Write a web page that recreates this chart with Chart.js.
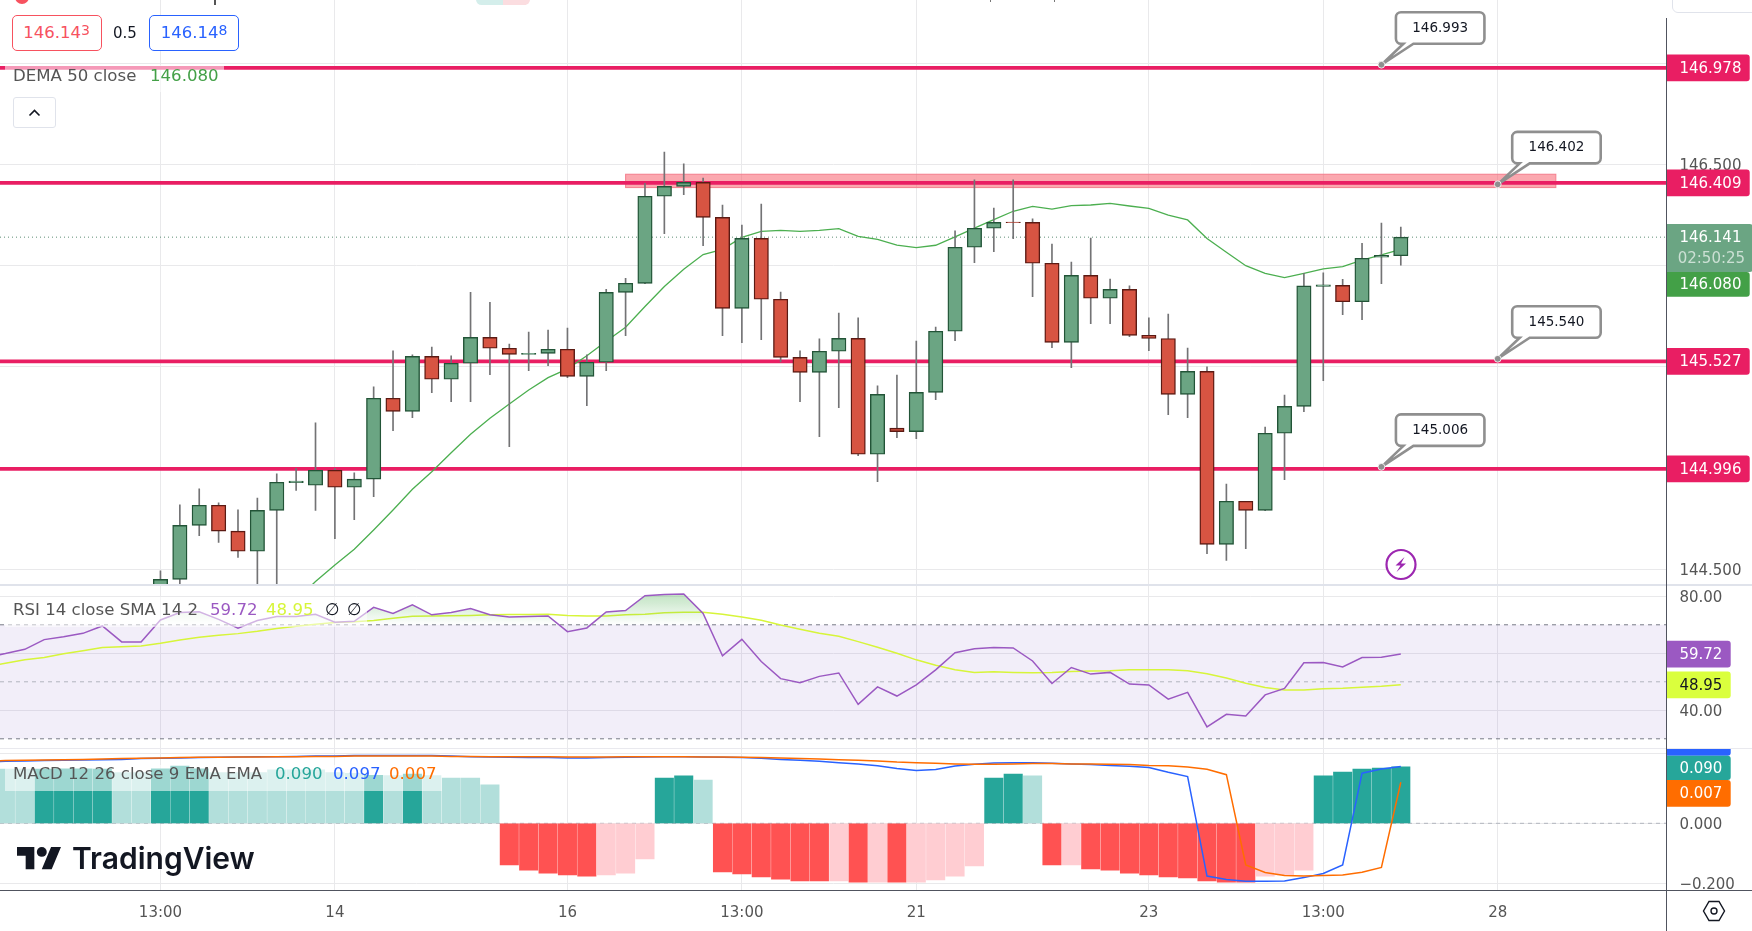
<!DOCTYPE html>
<html>
<head>
<meta charset="utf-8">
<title>USD/JPY chart</title>
<script src="https://cdn.jsdelivr.net/npm/chart.js@4"></script>
<style>
html, body { margin: 0; padding: 0; background: #fff; }
body { width: 1752px; height: 931px; position: relative; overflow: hidden; font-family: "DejaVu Sans", sans-serif; color: #555; }
canvas { position: absolute; left: 0; display: block; }
.abs { position: absolute; white-space: nowrap; }
.legend-bg { position: absolute; background: rgba(255,255,255,0.55); }
.txt { position: absolute; white-space: nowrap; font-size: 16.6px; line-height: 20px; }
.quote { position: absolute; top: 15.3px; width: 88.3px; height: 33.4px; border: 1px solid; border-radius: 5px; font-size: 16.5px; line-height: 33px; text-align: center; background: #fff; }
.quote span { font-size: 14px; position: relative; top: -3px; }
</style>
</head>
<body>
<canvas id="mainChart" style="top:0"></canvas>
<canvas id="rsiChart" style="top:586px"></canvas>
<canvas id="macdChart" style="top:749px"></canvas>

<div class="abs" style="left:0;top:584px;width:1752px;height:2px;background:#E0E3EB"></div>
<div class="abs" style="left:0;top:748px;width:1752px;height:1px;background:#E9E9EE"></div>
<div class="abs" style="left:0;top:890px;width:1752px;height:1px;background:#50535E"></div>
<div class="abs" style="left:1666px;top:18px;width:1px;height:913px;background:#50535E"></div>

<div class="abs" style="left:15px;top:-10px;width:14px;height:14px;border-radius:50%;background:#F7525F"></div>
<div class="abs" style="left:214px;top:0;width:2px;height:5px;background:#555"></div>
<div class="abs" style="left:476px;top:-6px;width:27px;height:11px;border-radius:6px 0 0 6px;background:#D4EEEB"></div>
<div class="abs" style="left:503px;top:-6px;width:27px;height:11px;border-radius:0 6px 6px 0;background:#FBDDE0"></div>
<div class="abs" style="left:990px;top:0;width:1px;height:2px;background:#777"></div>
<div class="abs" style="left:1054px;top:0;width:1px;height:2px;background:#777"></div>
<div class="abs" style="left:1672px;top:-6px;width:90px;height:17px;border:1px solid #E0E3EB;border-radius:6px"></div>

<div class="quote" style="left:11.5px;border-color:#F7525F;color:#F7525F">146.14<span>3</span></div>
<div class="txt" style="left:113px;top:23px;color:#131722;font-size:15px">0.5</div>
<div class="quote" style="left:149px;border-color:#2962FF;color:#2962FF">146.14<span>8</span></div>

<div class="legend-bg" style="left:5px;top:64.5px;width:219px;height:27px"></div>
<div class="txt" style="left:13px;top:66px">DEMA 50 close</div>
<div class="txt" style="left:150px;top:66px;color:#43A047">146.080</div>

<div class="abs" style="left:13.4px;top:96.7px;width:41px;height:29.6px;border:1px solid #E0E3EB;border-radius:3px;background:#fff">
  <svg width="41" height="30"><path d="M15.5 17.5L20.5 12.5L25.5 17.5" fill="none" stroke="#131722" stroke-width="1.6"/></svg>
</div>

<div class="legend-bg" style="left:5px;top:596.7px;width:361.6px;height:30.3px"></div>
<div class="txt" style="left:13px;top:600px">RSI 14 close SMA 14 2</div>
<div class="txt" style="left:210px;top:600px;color:#9B59C2">59.72</div>
<div class="txt" style="left:266px;top:600px;color:#D7F53A">48.95</div>
<div class="txt" style="left:325px;top:600px;color:#131722">∅</div>
<div class="txt" style="left:347px;top:600px;color:#131722">∅</div>

<div class="legend-bg" style="left:5px;top:765px;width:437px;height:25.7px"></div>
<div class="txt" style="left:13px;top:764px">MACD 12 26 close 9 EMA EMA</div>
<div class="txt" style="left:275px;top:764px;color:#26A69A">0.090</div>
<div class="txt" style="left:333px;top:764px;color:#2962FF">0.097</div>
<div class="txt" style="left:389px;top:764px;color:#FF6D00">0.007</div>

<svg class="abs" style="left:17px;top:841.7px" width="44.6" height="34.7" viewBox="0 0 36 28">
  <path d="M14 22H7V11H0V4h14v18zM28 22h-8l7.5-18h8L28 22z" fill="#131722"/><circle cx="20" cy="8" r="4" fill="#131722"/>
</svg>
<div class="abs" style="left:72px;top:840px;font:600 30px/36px Inter, sans-serif;color:#131722">TradingView</div>

<svg class="abs" style="left:1384px;top:548px" width="34" height="34">
  <circle cx="17" cy="16.5" r="14.5" fill="#fff" stroke="#9C27B0" stroke-width="2.2"/>
  <path d="M20.5 9L11.5 17.5H16.5L12.5 24L22 15.5H17z" fill="#9C27B0"/>
</svg>
<svg class="abs" style="left:1702px;top:900px" width="24" height="22">
  <path d="M7 1.5H17L22.5 11L17 20.5H7L1.5 11z" fill="none" stroke="#131722" stroke-width="1.4"/>
  <circle cx="12" cy="11" r="3" fill="none" stroke="#131722" stroke-width="1.4"/>
</svg>

<script>
// bar numbers on the time axis, 0 is the first 13:00
var xMin = -8.28;
var xMax = 77.72;
var timeTickBars = [0, 9, 21, 30, 39, 51, 60, 69];
var timeTickLabels = ['13:00', '14', '16', '13:00', '21', '23', '13:00', '28'];

// candles start at bar 0
var openPrices = [144.300,144.450,144.717,144.816,144.688,144.589,144.791,144.928,144.915,144.989,144.905,144.945,145.345,145.280,145.552,145.439,145.518,145.646,145.592,145.562,145.567,145.587,145.453,145.523,145.868,145.913,146.343,146.392,146.412,146.239,145.789,146.135,145.834,145.547,145.473,145.577,145.641,145.068,145.197,145.180,145.374,145.676,146.091,146.185,146.216,146.214,146.012,145.621,145.952,145.839,145.883,145.656,145.640,145.364,145.478,144.623,144.836,144.791,145.172,145.305,145.898,145.903,145.822,146.042,146.049];
var highPrices = [144.492,144.818,144.897,144.828,144.793,144.852,144.971,144.999,145.223,144.999,144.976,145.401,145.579,145.559,145.598,145.554,145.868,145.819,145.613,145.672,145.682,145.692,145.559,145.883,145.938,146.407,146.562,146.503,146.433,146.300,146.201,146.305,145.870,145.579,145.638,145.766,145.742,145.406,145.460,145.628,145.697,146.172,146.424,146.285,146.424,146.231,146.107,146.018,146.137,145.934,145.900,145.742,145.761,145.593,145.500,144.921,144.836,145.203,145.361,145.962,145.965,145.933,146.111,146.210,146.191];
var lowPrices = [144.260,144.400,144.666,144.632,144.558,144.380,144.400,144.889,144.790,144.651,144.745,144.859,145.185,145.249,145.373,145.328,145.328,145.462,145.106,145.481,145.506,145.447,145.308,145.481,145.654,145.911,146.158,146.351,146.099,145.654,145.620,145.635,145.524,145.328,145.155,145.299,145.061,144.933,145.150,145.145,145.338,145.630,146.015,146.069,146.134,145.847,145.595,145.496,145.714,145.714,145.649,145.580,145.264,145.249,144.577,144.543,144.602,144.789,144.943,145.279,145.432,145.758,145.733,145.911,146.003];
var closePrices = [144.450,144.717,144.816,144.688,144.589,144.791,144.930,144.935,144.989,144.905,144.945,145.345,145.280,145.552,145.439,145.518,145.646,145.592,145.562,145.567,145.587,145.453,145.523,145.868,145.913,146.343,146.392,146.412,146.239,145.789,146.135,145.834,145.547,145.473,145.577,145.641,145.068,145.364,145.180,145.374,145.676,146.091,146.185,146.214,146.213,146.012,145.621,145.952,145.839,145.883,145.656,145.640,145.364,145.478,144.623,144.836,144.791,145.172,145.305,145.900,145.905,145.822,146.037,146.051,146.141];

// DEMA starts at bar 7, below that it is under the pane
var demaStart = 7;
var demaValues = [144.348,144.439,144.521,144.599,144.694,144.793,144.895,144.982,145.076,145.167,145.246,145.317,145.386,145.447,145.490,145.555,145.627,145.696,145.798,145.897,145.982,146.055,146.081,146.140,146.170,146.175,146.170,146.175,146.183,146.145,146.130,146.102,146.089,146.101,146.142,146.186,146.228,146.269,146.293,146.280,146.297,146.300,146.308,146.295,146.283,146.250,146.226,146.134,146.066,146.000,145.962,145.941,145.962,145.984,145.995,146.028,146.053,146.081];

var lineLevels = [146.978, 146.409, 145.527, 144.996];
var lastPrice = 146.141;
var demaLast = 146.080;
var zoneLow = 146.386;
var zoneHigh = 146.452;
var zoneStartBar = 24;
var zoneEndBar = 72;
var calloutBars = [63, 69, 69, 63];
var calloutPrices = [146.993, 146.402, 145.540, 145.006];
var priceTicks = [147, 146.5, 146, 145.5, 145, 144.5];

// oscillators start at bar -9
var oscStart = -9;
var rsiValues = [58.6,59.9,61.4,64.8,65.8,67.0,69.6,64.0,64.0,71.7,74.3,74.6,71.9,68.8,71.5,72.9,72.9,73.7,70.9,71.2,76.1,74.0,77.0,73.5,74.3,75.7,73.5,72.7,72.9,73.1,67.6,68.9,74.5,75.0,80.2,80.6,80.8,74.0,59.1,64.9,57.1,51.1,49.7,51.9,53.1,42.1,48.2,45.0,48.9,54.2,60.2,61.6,62.0,61.9,57.3,49.4,55.0,52.7,53.3,49.2,48.9,43.9,46.3,34.2,38.6,38.0,45.4,47.7,56.7,56.8,55.2,58.5,58.6,59.72];
var rsiSma = [55.3,56.5,57.7,58.5,59.8,60.9,62.0,62.3,62.6,63.5,64.7,65.6,66.3,66.9,67.7,68.7,69.5,70.2,70.8,71.1,71.5,72.3,73.0,73.1,73.2,73.3,73.5,73.6,73.6,73.7,73.3,73.1,73.1,73.5,73.7,74.2,74.4,74.4,73.7,72.7,71.6,69.9,68.4,67.0,66.0,64.1,62.1,60.0,57.7,55.8,54.2,53.3,53.5,53.3,53.2,53.3,53.6,53.8,53.9,54.2,54.2,54.2,53.9,52.8,51.3,49.5,48.0,47.1,47.1,47.6,47.7,48.1,48.4,48.95];
var rsiLevels = [70, 50, 30];
var rsiTicks = [80, 60, 40];

var histValues = [0.181,0.181,0.181,0.181,0.182,0.182,0.181,0.169,0.169,0.182,0.191,0.182,0.169,0.169,0.169,0.178,0.178,0.178,0.169,0.167,0.160,0.159,0.164,0.159,0.151,0.151,0.128,-0.139,-0.156,-0.166,-0.172,-0.176,-0.172,-0.166,-0.119,0.151,0.158,0.144,-0.162,-0.169,-0.179,-0.186,-0.192,-0.192,-0.192,-0.196,-0.196,-0.196,-0.196,-0.189,-0.176,-0.142,0.151,0.164,0.158,-0.139,-0.139,-0.152,-0.156,-0.166,-0.172,-0.179,-0.182,-0.192,-0.196,-0.196,-0.176,-0.172,-0.156,0.158,0.171,0.181,0.184,0.188];
// bars where the histogram is drawn in the pale shade
var histPaleBars = [-9,-8,-7,-2,-1,3,4,5,6,7,8,9,10,12,14,15,16,17,23,24,25,28,35,37,39,40,41,42,45,47,57,58,59];
var macdValues = [0.204,0.207,0.208,0.209,0.210,0.211,0.212,0.213,0.216,0.217,0.218,0.219,0.220,0.221,0.222,0.222,0.223,0.224,0.224,0.226,0.226,0.226,0.226,0.226,0.224,0.222,0.221,0.220,0.219,0.219,0.218,0.218,0.219,0.220,0.221,0.222,0.222,0.221,0.220,0.219,0.217,0.213,0.210,0.207,0.202,0.198,0.192,0.183,0.176,0.179,0.191,0.197,0.201,0.202,0.202,0.200,0.198,0.196,0.193,0.190,0.186,0.170,0.156,-0.176,-0.187,-0.193,-0.193,-0.192,-0.181,-0.167,-0.139,0.167,0.181,0.189];
var signalValues = [0.206,0.209,0.210,0.211,0.212,0.213,0.214,0.216,0.217,0.218,0.219,0.220,0.220,0.221,0.221,0.222,0.222,0.223,0.223,0.224,0.224,0.224,0.224,0.224,0.223,0.223,0.222,0.222,0.222,0.222,0.221,0.221,0.221,0.222,0.222,0.222,0.222,0.221,0.221,0.220,0.219,0.218,0.216,0.214,0.212,0.210,0.208,0.204,0.202,0.200,0.198,0.197,0.197,0.198,0.199,0.199,0.198,0.198,0.197,0.196,0.193,0.192,0.188,0.180,0.162,-0.139,-0.164,-0.174,-0.176,-0.174,-0.172,-0.163,-0.147,0.137];
var macdTicks = [0.233, 0, -0.2];
var macdZero = 0;

var FONT = '"DejaVu Sans", sans-serif';
var GRID = '#E9E9EB';
var TICK_COLOR = '#555';
var PINK = '#E91E63';
var AXIS_WIDTH = 85.3;

Chart.defaults.animation = false;
Chart.defaults.font.family = FONT;
Chart.defaults.font.size = 15;
Chart.defaults.events = [];

var mainEl = document.getElementById('mainChart');
var rsiEl = document.getElementById('rsiChart');
var macdEl = document.getElementById('macdChart');
mainEl.width = 1752; mainEl.height = 584;
rsiEl.width = 1752; rsiEl.height = 162;
macdEl.width = 1752; macdEl.height = 182;

function toPoints(values, start) {
    return values.map(function (v, k) { return { x: start + k, y: v }; });
}

function levelLine(value, color, width, dash, order) {
    return {
        type: 'line',
        data: [{ x: xMin, y: value }, { x: xMax, y: value }],
        borderColor: color,
        borderWidth: width,
        borderDash: dash,
        pointRadius: 0,
        order: order
    };
}

function seriesLine(values, start, color, order, width) {
    return {
        type: 'line',
        data: toPoints(values, start),
        borderColor: color,
        borderWidth: width,
        pointRadius: 0,
        tension: 0,
        order: order
    };
}

// the plot must run to the very edge of each pane
function noScalePadding(scale) {
    scale.paddingTop = 0;
    scale.paddingBottom = 0;
    scale.paddingLeft = 0;
    scale.paddingRight = 0;
}

function paneOptions(yMin, yMax, yTicks, formatTick, showTime) {
    return {
        responsive: false,
        maintainAspectRatio: false,
        layout: { padding: 0, autoPadding: false },
        plugins: { legend: { display: false }, tooltip: { enabled: false } },
        scales: {
            x: {
                type: 'linear',
                offset: false,
                min: xMin,
                max: xMax,
                afterBuildTicks: function (scale) {
                    scale.ticks = timeTickBars.map(function (b) { return { value: b }; });
                },
                afterFit: function (scale) {
                    scale.height = showTime ? 41 : 0;
                    noScalePadding(scale);
                },
                grid: { color: GRID, offset: false, drawTicks: false },
                border: { display: false },
                ticks: {
                    display: showTime,
                    autoSkip: false,
                    maxRotation: 0,
                    padding: 14,
                    color: TICK_COLOR,
                    callback: function (v) { return timeTickLabels[timeTickBars.indexOf(v)]; }
                }
            },
            y: {
                position: 'right',
                min: yMin,
                max: yMax,
                afterBuildTicks: function (scale) {
                    scale.ticks = yTicks.map(function (v) { return { value: v }; });
                },
                afterFit: function (scale) {
                    scale.width = AXIS_WIDTH;
                    noScalePadding(scale);
                },
                grid: { color: GRID, drawTicks: false },
                border: { display: false },
                ticks: { autoSkip: false, padding: 12.7, labelOffset: 2, color: TICK_COLOR, callback: formatTick }
            }
        }
    };
}

function drawTag(chart, top, h, w, bg, color, text) {
    var ctx = chart.ctx;
    var left = chart.chartArea.right;
    ctx.save();
    ctx.fillStyle = bg;
    ctx.beginPath();
    ctx.roundRect(left, top, w, h, [0, 3, 3, 0]);
    ctx.fill();
    ctx.fillStyle = color;
    ctx.font = '15px ' + FONT;
    ctx.textAlign = 'left';
    ctx.textBaseline = 'middle';
    ctx.fillText(text, left + 12.7, top + h / 2 + 1);
    ctx.restore();
}

function drawCallout(chart, bar, price) {
    var ctx = chart.ctx;
    var ax = chart.scales.x.getPixelForValue(bar);
    var ay = chart.scales.y.getPixelForValue(price);
    var l = ax + 14.5, r = ax + 103, t = ay - 52.5, b = ay - 21, rad = 5;
    ctx.save();
    ctx.beginPath();
    ctx.moveTo(l + rad, t);
    ctx.arcTo(r, t, r, b, rad);
    ctx.arcTo(r, b, l, b, rad);
    ctx.lineTo(ax + 32, b);
    ctx.lineTo(ax, ay);
    ctx.lineTo(ax + 22, b);
    ctx.arcTo(l, b, l, t, rad);
    ctx.arcTo(l, t, r, t, rad);
    ctx.closePath();
    ctx.fillStyle = '#fff';
    ctx.fill();
    ctx.strokeStyle = '#8F8F8F';
    ctx.lineWidth = 2.6;
    ctx.stroke();
    ctx.beginPath();
    ctx.arc(ax, ay, 3.4, 0, Math.PI * 2);
    ctx.fillStyle = '#8F8F8F';
    ctx.fill();
    ctx.strokeStyle = '#fff';
    ctx.lineWidth = 0.8;
    ctx.stroke();
    ctx.fillStyle = '#131722';
    ctx.font = '13.5px ' + FONT;
    ctx.textAlign = 'center';
    ctx.textBaseline = 'middle';
    ctx.fillText(price.toFixed(3), (l + r) / 2, (t + b) / 2);
    ctx.restore();
}

var zonePlugin = {
    id: 'zone',
    beforeDatasetsDraw: function (chart) {
        var ctx = chart.ctx, x = chart.scales.x, y = chart.scales.y;
        var l = x.getPixelForValue(zoneStartBar), r = x.getPixelForValue(zoneEndBar);
        var t = y.getPixelForValue(zoneHigh), b = y.getPixelForValue(zoneLow);
        ctx.save();
        ctx.fillStyle = 'rgba(247,82,95,0.5)';
        ctx.fillRect(l, t, r - l, b - t);
        ctx.strokeStyle = 'rgba(244,120,135,0.9)';
        ctx.lineWidth = 1;
        ctx.strokeRect(l, t, r - l, b - t);
        ctx.restore();
    }
};

var mainLabels = {
    id: 'mainLabels',
    afterDraw: function (chart) {
        var y = chart.scales.y;
        calloutBars.forEach(function (bar, k) { drawCallout(chart, bar, calloutPrices[k]); });
        lineLevels.forEach(function (level) {
            drawTag(chart, y.getPixelForValue(level) - 13.4, 26.8, 83, PINK, '#fff', level.toFixed(3));
        });
        drawTag(chart, 224, 48, 86, '#6BA583', '#fff', '');
        var ctx = chart.ctx;
        ctx.save();
        ctx.font = '15px ' + FONT;
        ctx.textBaseline = 'middle';
        ctx.fillStyle = '#fff';
        ctx.fillText(lastPrice.toFixed(3), chart.chartArea.right + 12.7, 238);
        ctx.fillStyle = 'rgba(255,255,255,0.65)';
        ctx.fillText('02:50:25', chart.chartArea.right + 11, 259);
        ctx.restore();
        drawTag(chart, 272, 24.7, 83, '#43A047', '#fff', demaLast.toFixed(3));
    }
};

var wickData = closePrices.map(function (c, k) { return { x: k, y: [lowPrices[k], highPrices[k]] }; });
var bodyData = closePrices.map(function (c, k) { return { x: k, y: [openPrices[k], c] }; });
var isUp = closePrices.map(function (c, k) { return c >= openPrices[k]; });

new Chart(mainEl.getContext('2d'), {
    type: 'bar',
    data: {
        datasets: [
            {
                data: bodyData,
                barThickness: 14.4,
                grouped: false,
                borderWidth: 1.4,
                borderSkipped: false,
                backgroundColor: isUp.map(function (u) { return u ? '#6BA583' : '#D75442'; }),
                borderColor: isUp.map(function (u) { return u ? '#225437' : '#5B1A13'; }),
                order: 1
            },
            {
                data: wickData,
                barThickness: 1,
                grouped: false,
                borderWidth: 0,
                backgroundColor: '#737375',
                order: 2
            },
            seriesLine(demaValues, demaStart, '#4CAF50', 3, 1.3),
            levelLine(lineLevels[0], PINK, 3.8, [], 4),
            levelLine(lineLevels[1], PINK, 3.8, [], 4),
            levelLine(lineLevels[2], PINK, 3.8, [], 4),
            levelLine(lineLevels[3], PINK, 3.8, [], 4),
            levelLine(lastPrice, '#5E8E76', 1, [1, 3], 5)
        ]
    },
    options: paneOptions(144.427, 147.313, priceTicks, function (v) { return v.toFixed(3); }, false),
    plugins: [zonePlugin, mainLabels]
});

// green shade between the RSI line and the 70 level
var rsiShade = rsiEl.getContext('2d').createLinearGradient(0, 8, 0, 39);
rsiShade.addColorStop(0, 'rgba(76,175,80,0.35)');
rsiShade.addColorStop(1, 'rgba(76,175,80,0)');

var rsiLine = seriesLine(rsiValues, oscStart, '#9B59C2', 1, 1.5);
rsiLine.fill = { target: { value: 70 }, above: rsiShade, below: 'rgba(0,0,0,0)' };

new Chart(rsiEl.getContext('2d'), {
    type: 'line',
    data: {
        datasets: [
            rsiLine,
            seriesLine(rsiSma, oscStart, '#D7F53A', 2, 1.5),
            levelLine(rsiLevels[0], '#787B86', 1, [4, 4], 3),
            levelLine(rsiLevels[1], '#B2B5BE', 1, [4, 4], 3),
            levelLine(rsiLevels[2], '#787B86', 1, [4, 4], 3)
        ]
    },
    options: paneOptions(26.77, 83.61, rsiTicks, function (v) { return v.toFixed(2); }, false),
    plugins: [{
        id: 'rsiBand',
        beforeDatasetsDraw: function (chart) {
            var ctx = chart.ctx, y = chart.scales.y, a = chart.chartArea;
            var t = y.getPixelForValue(rsiLevels[0]), b = y.getPixelForValue(rsiLevels[2]);
            ctx.save();
            ctx.fillStyle = 'rgba(126,87,194,0.1)';
            ctx.fillRect(a.left, t, a.right - a.left, b - t);
            ctx.restore();
        },
        afterDraw: function (chart) {
            var y = chart.scales.y;
            drawTag(chart, y.getPixelForValue(rsiValues[rsiValues.length - 1]) - 13.4, 26.8, 64, '#9B59C2', '#fff', '59.72');
            drawTag(chart, y.getPixelForValue(rsiSma[rsiSma.length - 1]) - 13.4, 26.8, 64, '#DAFF3D', '#131722', '48.95');
        }
    }]
});

new Chart(macdEl.getContext('2d'), {
    type: 'bar',
    data: {
        datasets: [
            seriesLine(signalValues, oscStart, '#FF6D00', 1, 1.5),
            seriesLine(macdValues, oscStart, '#2962FF', 2, 1.5),
            levelLine(macdZero, '#B2B5BE', 1, [4, 4], 4),
            {
                data: toPoints(histValues, oscStart),
                barThickness: 18.4,
                grouped: false,
                backgroundColor: histValues.map(function (v, k) {
                    var pale = histPaleBars.indexOf(oscStart + k) >= 0;
                    if (v >= 0) return pale ? '#B2DFDB' : '#26A69A';
                    return pale ? '#FFCDD2' : '#FF5252';
                }),
                order: 3
            }
        ]
    },
    options: paneOptions(-0.2223, 0.2477, macdTicks, function (v) {
        if (v === 0) return '0.000';
        if (v < 0) return '\u22120.200';
        return '';
    }, true),
    plugins: [{
        id: 'macdTags',
        afterDraw: function (chart) {
            drawTag(chart, -6.7, 13.4, 64, '#2962FF', '#fff', '');
            drawTag(chart, 6.7, 24.3, 64, '#26A69A', '#fff', '0.090');
            drawTag(chart, 31, 26.7, 64, '#FF6D00', '#fff', '0.007');
        }
    }]
});
</script>
</body>
</html>
